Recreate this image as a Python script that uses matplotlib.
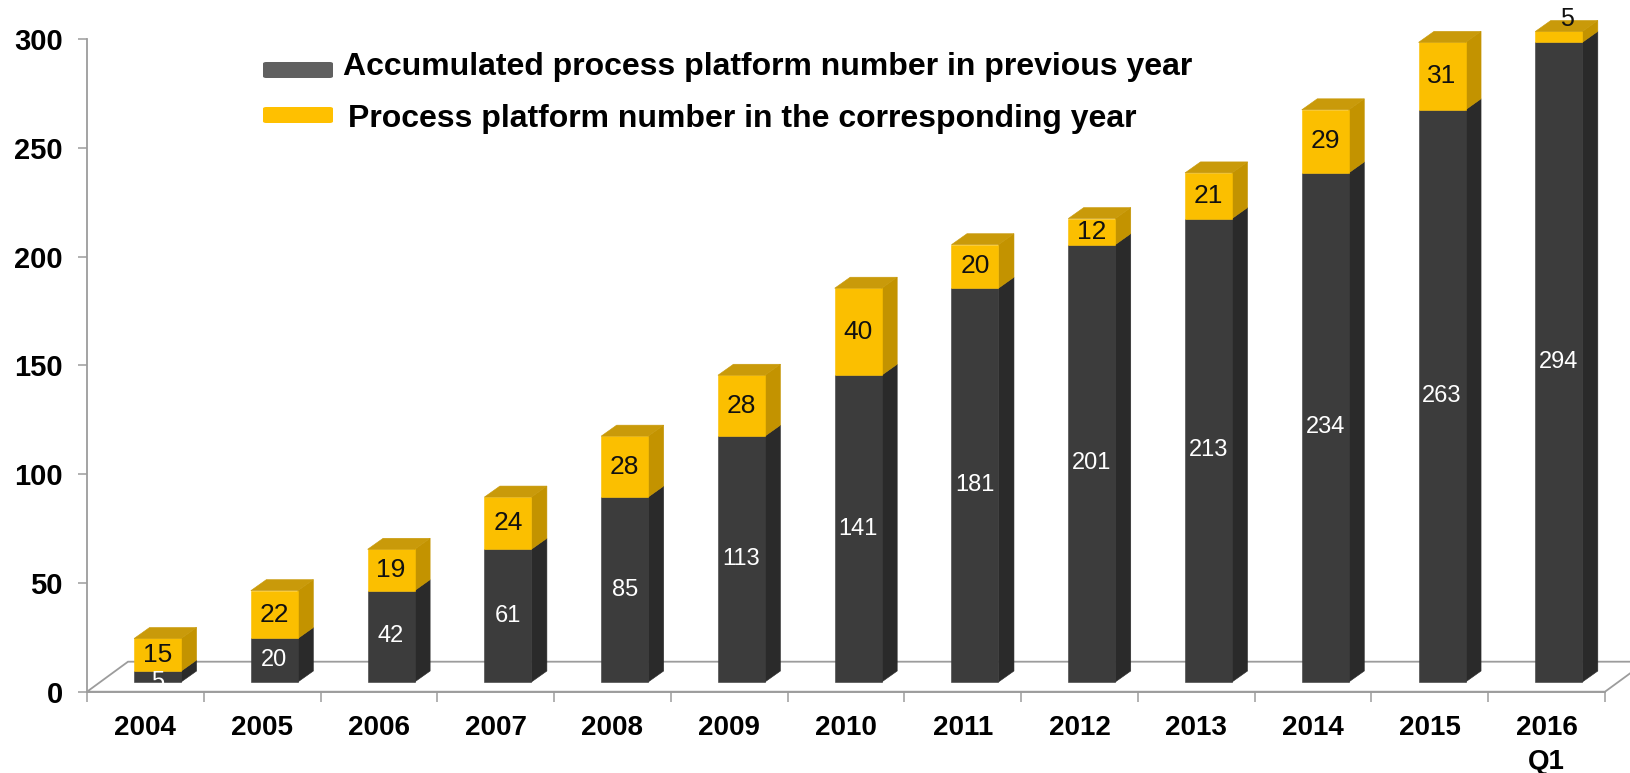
import matplotlib
matplotlib.use("Agg")
import matplotlib.pyplot as plt
from matplotlib.patches import Polygon, FancyBboxPatch

plt.rcParams['font.family'] = ['Liberation Sans', 'DejaVu Sans']

# ---------------- data ----------------
categories = ["2004", "2005", "2006", "2007", "2008", "2009", "2010",
              "2011", "2012", "2013", "2014", "2015", "2016\nQ1"]
accumulated = [5, 20, 42, 61, 85, 113, 141, 181, 201, 213, 234, 263, 294]
new_in_year = [15, 22, 19, 24, 28, 28, 40, 20, 12, 21, 29, 31, 5]
yticks = [0, 50, 100, 150, 200, 250, 300]
legend_labels = ["Accumulated process platform number in previous year",
                 "Process platform number in the corresponding year"]

# ---------------- style ----------------
W, H = 1631, 773
DARK_FRONT = "#3c3c3c"
DARK_SIDE = "#2a2a2a"
DARK_TOP = "#4a4a4a"
YEL_FRONT = "#fbbf00"
YEL_SIDE = "#c39300"
YEL_TOP = "#c99a0a"
AXIS_GRAY = "#9c9c9c"

fig = plt.figure(figsize=(W / 100, H / 100), dpi=100)
fig.patch.set_facecolor("white")

ax_left, ax_right, ax_bot, ax_top = 87, 1605, 691.7, 39
ax = fig.add_axes([ax_left / W, 1 - ax_bot / H, (ax_right - ax_left) / W, (ax_bot - ax_top) / H])
n = len(categories)
ax.set_xlim(0, n)
ax.set_ylim(0, 300)
ax.set_facecolor("none")

px_per_x = (ax_right - ax_left) / n
px_per_y = (ax_bot - ax_top) / 300.0

def ux(px):
    return px / px_per_x

def uy(px):
    return px / px_per_y

# 3D geometry (pixels converted to data units)
floor_dx, floor_dy = ux(41), uy(30)
bar_dx, bar_dy = ux(15.5), uy(11)
bar_base = uy(9.7)
bar_off = ux(-11.3)
bar_w = ux(47)

# floor
floor = [(0, 0), (n, 0), (n + floor_dx, floor_dy), (floor_dx, floor_dy)]
ax.add_patch(Polygon(floor, closed=True, facecolor="white", edgecolor=AXIS_GRAY,
                     linewidth=1.3, clip_on=False, zorder=1))

def face(pts, color):
    ax.add_patch(Polygon(pts, closed=True, facecolor=color, edgecolor=color,
                         linewidth=0.4, clip_on=False, zorder=3))

def box(x0, y0, h, front, side, top, draw_top):
    x1 = x0 + bar_w
    y1 = y0 + h
    face([(x1, y0), (x1 + bar_dx, y0 + bar_dy), (x1 + bar_dx, y1 + bar_dy), (x1, y1)], side)
    face([(x0, y0), (x1, y0), (x1, y1), (x0, y1)], front)
    if draw_top:
        face([(x0, y1), (x1, y1), (x1 + bar_dx, y1 + bar_dy), (x0 + bar_dx, y1 + bar_dy)], top)

label_min = uy(22)
for i, (a, b) in enumerate(zip(accumulated, new_in_year)):
    x0 = i + 0.5 + bar_off
    xc = x0 + bar_w / 2
    box(x0, bar_base, a, DARK_FRONT, DARK_SIDE, DARK_TOP, False)
    box(x0, bar_base + a, b, YEL_FRONT, YEL_SIDE, YEL_TOP, True)
    # dark label
    if a >= label_min:
        ax.text(xc, bar_base + a / 2, str(a), ha="center", va="center", color="white",
                fontsize=17, zorder=5)
    else:
        ax.text(xc, bar_base + a, str(a), ha="center", va="top", color="white",
                fontsize=17, zorder=5, clip_on=False)
    # yellow label
    if b >= label_min / 1.6:
        ax.text(xc, bar_base + a + b / 2, str(b), ha="center", va="center", color="#111111",
                fontsize=19, zorder=5)
    else:
        ax.text(xc + bar_dx / 2, bar_base + a + b + bar_dy - uy(10.5), str(b), ha="center", va="bottom",
                color="#111111", fontsize=18, zorder=5, clip_on=False)

# axes styling
for s in ["top", "right"]:
    ax.spines[s].set_visible(False)
for s in ["left", "bottom"]:
    ax.spines[s].set_color(AXIS_GRAY)
    ax.spines[s].set_linewidth(1.3)
    ax.spines[s].set_zorder(2)

ax.set_yticks(yticks)
ax.set_yticklabels([str(v) for v in yticks], fontsize=21, fontweight="bold")
ax.tick_params(axis="y", direction="out", length=6.5, width=1.1, color=AXIS_GRAY, pad=11)

ax.set_xticks(range(n + 1))
ax.set_xticklabels([])
ax.set_xticks([i + 0.5 for i in range(n)], minor=True)
ax.set_xticklabels(categories, minor=True, fontsize=20, fontweight="bold", linespacing=1.38)
ax.tick_params(axis="x", which="major", direction="out", length=7.5, width=1.1, color=AXIS_GRAY)
ax.tick_params(axis="x", which="minor", length=0, pad=17)

# legend (manual)
def fx(px):
    return px / W

def fy(py):
    return 1 - py / H

sw = [(263, 62, 70, 16, "#606060"), (263, 107, 70, 16, "#ffc000")]
for (x, y, w, h, c) in sw:
    fig.patches.append(FancyBboxPatch((fx(x), fy(y + h)), w / W, h / H,
                                      boxstyle="round,pad=0,rounding_size=0.002",
                                      facecolor=c, edgecolor="none", transform=fig.transFigure))
fig.text(fx(343), fy(67), legend_labels[0], fontsize=23, fontweight="bold", va="center", ha="left")
fig.text(fx(348), fy(119), legend_labels[1], fontsize=23, fontweight="bold", va="center", ha="left")

fig.savefig("out.png", dpi=100, facecolor="white")
